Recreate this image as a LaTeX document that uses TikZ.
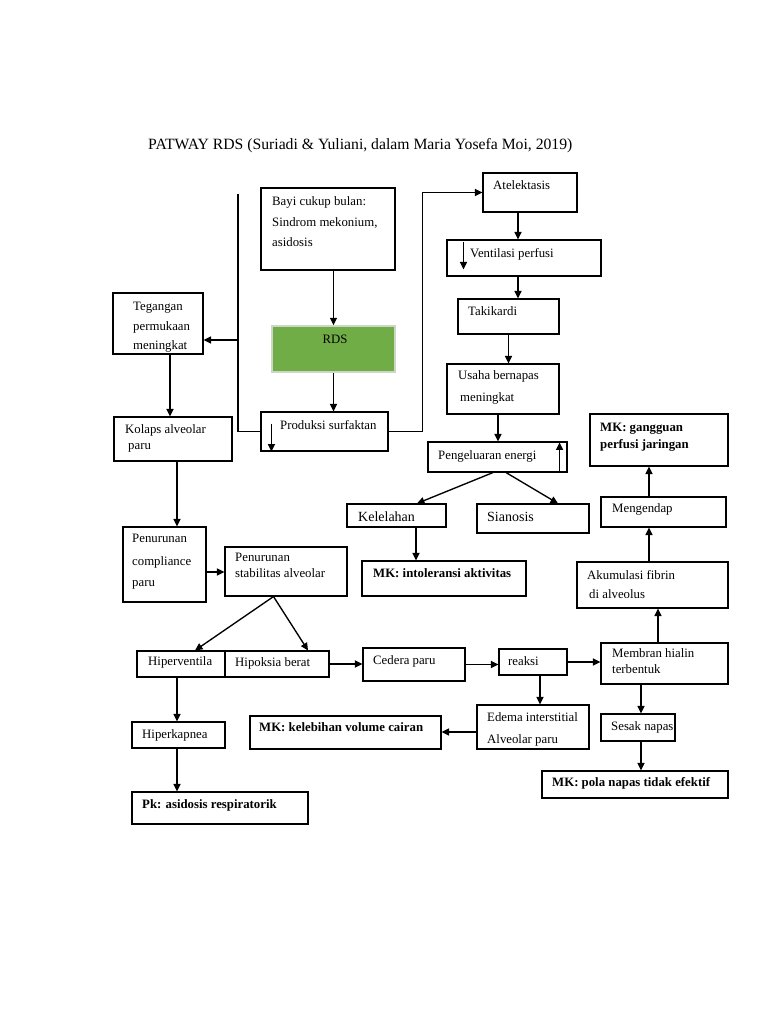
\documentclass[tikz,border=0pt]{standalone}
\usepackage{fontspec}
\setmainfont{Liberation Serif}
\usetikzlibrary{arrows.meta,fit,calc}
\definecolor{rdsgreen}{RGB}{112,173,71}
\definecolor{rdsedge}{RGB}{205,215,200}
\begin{document}
\begin{tikzpicture}[x=1pt,y=-1pt,
 box/.style={draw=black, line width=1.1pt, inner sep=0pt},
 lb/.style={inner sep=0pt, anchor=base west, font=\fontsize{12.8}{15}\selectfont},
 lbb/.style={inner sep=0pt, anchor=base west, font=\fontsize{12.8}{15}\selectfont\bfseries},
 lbl/.style={inner sep=0pt, anchor=base west, font=\fontsize{14}{16}\selectfont},
 arr/.style={line width=1.35pt, -{Triangle[length=7.5pt,width=7pt]}},
 ln/.style={line width=1.35pt}]
\fill[white] (0,0) rectangle (768,1024);
\useasboundingbox (0,0) rectangle (768,1024);

% title
\node[inner sep=0pt, anchor=base west, font=\fontsize{15.7}{18}\selectfont] (title) at (148,150) {PATWAY RDS (Suriadi \& Yuliani, dalam Maria Yosefa Moi, 2019)};

% boxes
\node[box, fit={(261,188) (395,270)}] (bayi) {};
\node[box, fit={(113,293) (203,354)}] (teg) {};
\node[draw=rdsedge, line width=1.5pt, fill=rdsgreen, inner sep=0pt, fit={(272,326) (395,372)}] (rds) {};
\node[box, fit={(261,412) (388,451)}] (prod) {};
\node[box, fit={(114,417) (232,461)}] (kol) {};
\node[box, fit={(123,527) (206,602)}] (comp) {};
\node[box, fit={(225,547) (347,596)}] (stab) {};
\node[box, fit={(483,173) (577,212)}] (atel) {};
\node[box, fit={(447,240) (601,276)}] (vent) {};
\node[box, fit={(458,299) (559,334)}] (taki) {};
\node[box, fit={(447,364) (559,414)}] (usaha) {};
\node[box, fit={(428,442) (567,472)}] (peng) {};
\node[box, fit={(347,504) (446,527)}] (kel) {};
\node[box, fit={(477,504) (589,533)}] (sian) {};
\node[box, fit={(362,561) (526,596)}] (mkint) {};
\node[box, fit={(590,414) (728,466)}] (mkg) {};
\node[box, fit={(601,497) (726,527)}] (meng) {};
\node[box, fit={(577,562) (728,608)}] (akum) {};
\node[box, fit={(601,643) (728,684)}] (memb) {};
\node[box, fit={(499,649) (567,675)}] (reaksi) {};
\node[box, fit={(363,648) (465,681)}] (ced) {};
\node[box, fit={(137,651) (225,677)}] (hiperv) {};
\node[box, fit={(225,651) (329,677)}] (hipo) {};
\node[box, fit={(132,722) (225,748)}] (hiperk) {};
\node[box, fit={(132,792) (308,824)}] (pk) {};
\node[box, fit={(250,716) (441,749)}] (mkkel) {};
\node[box, fit={(477,705) (589,749)}] (edema) {};
\node[box, fit={(601,714) (675,741)}] (sesak) {};
\node[box, fit={(542,771) (728,798)}] (mkpola) {};

% texts
\node[lb] (bayiA) at (272,206) {Bayi cukup bulan:};
\node[lb] (bayiB) at (272,226) {Sindrom mekonium,};
\node[lb] (bayiC) at (272,247) {asidosis};
\node[lb] (tegA) at (133,310) {Tegangan};
\node[lb] (tegB) at (133,330) {permukaan};
\node[lb] (tegC) at (133,349) {meningkat};
\node[inner sep=0pt, anchor=base, font=\fontsize{12.8}{15}\selectfont] (rdsT) at (335,343) {RDS};
\node[lb] (prodT) at (280,429) {Produksi surfaktan};
\node[lb] (kolA) at (125,433) {Kolaps alveolar};
\node[lb] (kolB) at (128,449) {paru};
\node[lb] (compA) at (132,542) {Penurunan};
\node[lb] (compB) at (132,565) {compliance};
\node[lb] (compC) at (132,586) {paru};
\node[lb] (stabA) at (235,561) {Penurunan};
\node[lb] (stabB) at (235,577) {stabilitas alveolar};
\node[lb] (atelT) at (493,190) {Atelektasis};
\node[lb] (ventT) at (470,257) {Ventilasi perfusi};
\node[lb] (takiT) at (468,315) {Takikardi};
\node[lb] (usahaA) at (458,379) {Usaha bernapas};
\node[lb] (usahaB) at (460,401) {meningkat};
\node[lb] (pengT) at (438,459) {Pengeluaran energi};
\node[lbl] (kelT) at (358,521) {Kelelahan};
\node[lbl] (sianT) at (487,521) {Sianosis};
\node[lbb] (mkintT) at (373,577) {MK: intoleransi aktivitas};
\node[lbb] (mkgA) at (600,431) {MK: gangguan};
\node[lbb] (mkgB) at (600,448) {perfusi jaringan};
\node[lb] (mengT) at (612,512) {Mengendap};
\node[lb] (akumA) at (587,579) {Akumulasi fibrin};
\node[lb] (akumB) at (589,598) {di alveolus};
\node[lb] (membA) at (612,657) {Membran hialin};
\node[lb] (membB) at (612,673) {terbentuk};
\node[lb] (reaksiT) at (508,665) {reaksi};
\node[lb] (cedT) at (373,664) {Cedera paru};
\node[lb] (hipervT) at (148,665) {Hiperventila};
\node[lb] (hipoT) at (235,666) {Hipoksia berat};
\node[lb] (hiperkT) at (142,738) {Hiperkapnea};
\node[lbb] (pkT) at (142,808) {Pk: asidosis respiratorik};
\node[lbb] (mkkelT) at (259,731) {MK: kelebihan volume cairan};
\node[lb] (edemaA) at (487,721) {Edema interstitial};
\node[lb] (edemaB) at (487,743) {Alveolar paru};
\node[lb] (sesakT) at (611,730) {Sesak napas};
\node[lbb] (mkpolaT) at (552,786) {MK: pola napas tidak efektif};

% connectors
\coordinate (ltop) at (238,194);
\coordinate (lmid) at (238,340);
\draw[ln] (ltop) |- (prod.west);
\draw[arr] (lmid) -- (lmid -| teg.east);
\draw[arr] (bayi.south -| rds.north) -- (rds.north);
\draw[arr] (rds.south) -- (rds.south |- prod.north);
\draw[arr] ([xshift=11pt,yshift=28pt]prod.south west) -- ([xshift=11pt]prod.south west);
\draw[arr] (prod.east) -- ++(34,0) |- (atel.west);
\draw[arr] ([xshift=-12pt]atel.south) -- ([xshift=-12pt]atel.south |- vent.north);
\draw[arr] ([xshift=17pt,yshift=-3pt]vent.north west) -- ([xshift=17pt,yshift=-30pt]vent.north west);
\draw[arr] ([xshift=-6pt]vent.south) -- ([xshift=-6pt]vent.south |- taki.north);
\draw[arr] (taki.south) -- (taki.south |- usaha.north);
\draw[arr] ([xshift=-5pt]usaha.south) -- ([xshift=-5pt]usaha.south |- peng.north);
\draw[arr] ([xshift=-8pt]peng.south east) -- ([xshift=-8pt,yshift=-1pt]peng.north east);
\draw[arr] ([xshift=-4.5pt]peng.south) -- ([xshift=20.5pt]kel.north);
\draw[arr] ([xshift=8.5pt]peng.south) -- ([xshift=25pt]sian.north);
\draw[arr] ([xshift=19.5pt]kel.south) -- ([xshift=19.5pt]kel.south |- mkint.north);
\draw[arr] ([xshift=-14.5pt]meng.north) -- ([xshift=-14.5pt]meng.north |- mkg.south);
\draw[arr] ([xshift=-3.5pt]akum.north) -- ([xshift=-3.5pt]akum.north |- meng.south);
\draw[arr] ([xshift=-6.5pt]memb.north) -- ([xshift=-6.5pt]memb.north |- akum.south);
\draw[arr] ([xshift=3pt]sesak.north |- memb.south) -- ([xshift=3pt]sesak.north);
\draw[arr] ([xshift=3pt]sesak.south) -- ([xshift=3pt]sesak.south |- mkpola.north);
\draw[arr] (reaksi.east) -- (reaksi.east -| memb.west);
\draw[arr] (ced.east) -- (ced.east -| reaksi.west);
\draw[arr] (hipo.east) -- (hipo.east -| ced.west);
\draw[arr] ([xshift=7pt]reaksi.south) -- ([xshift=7pt]reaksi.south |- edema.north);
\draw[arr] ([yshift=-5pt]edema.west) -- ([yshift=-5pt]edema.west -| mkkel.east);
\draw[arr] ([xshift=-12.5pt]stab.south) -- ([xshift=14pt]hiperv.north);
\draw[arr] ([xshift=-12.5pt]stab.south) -- ([xshift=31pt]hipo.north);
\draw[arr] ([xshift=-1.5pt]hiperk.north |- hiperv.south) -- ([xshift=-1.5pt]hiperk.north);
\draw[arr] ([xshift=-1.5pt]hiperk.south) -- ([xshift=-1.5pt]hiperk.south |- pk.north);
\draw[arr] ([xshift=12pt]teg.south) -- ([xshift=12pt]teg.south |- kol.north);
\draw[arr] ([xshift=4pt]kol.south) -- ([xshift=4pt]kol.south |- comp.north);
\draw[arr] ([yshift=-7.5pt]comp.east) -- ([yshift=-7.5pt]comp.east -| stab.west);
\end{tikzpicture}
\end{document}
